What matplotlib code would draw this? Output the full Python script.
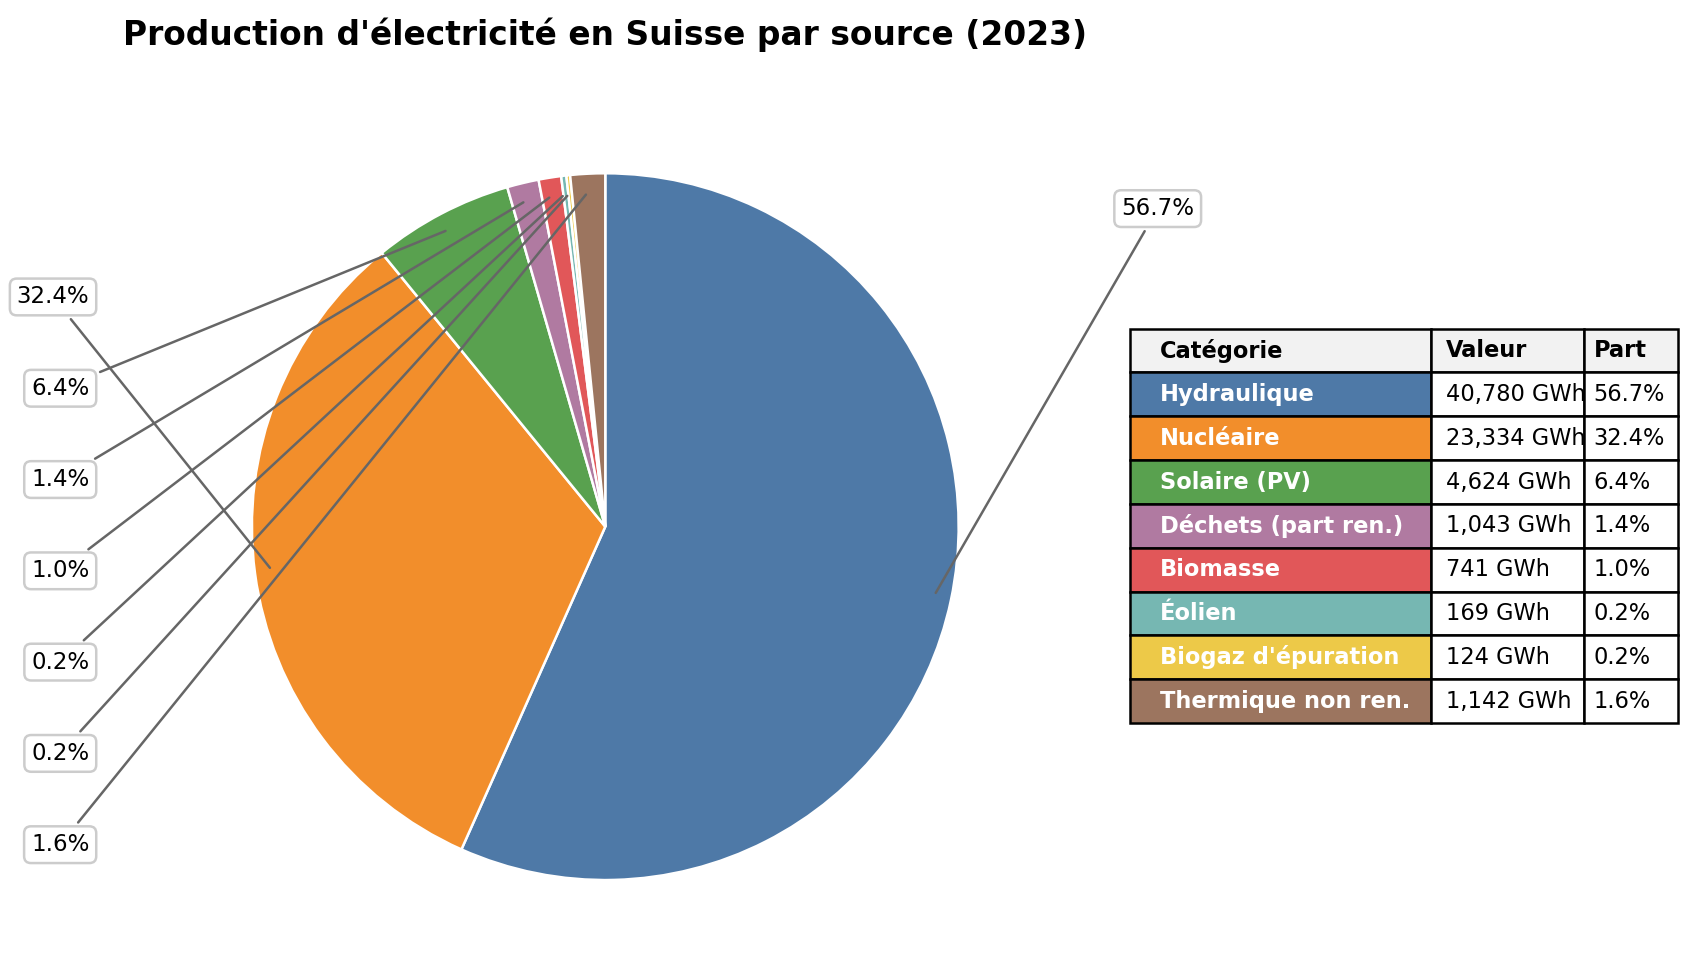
import numpy as np
import matplotlib
matplotlib.use('Agg')
import matplotlib.pyplot as plt

# data
categories = ['Hydraulique', 'Nucléaire', 'Solaire (PV)', 'Déchets (part ren.)',
              'Biomasse', 'Éolien', "Biogaz d'épuration", 'Thermique non ren.']
values_gwh = [40780, 23334, 4624, 1043, 741, 169, 124, 1142]
colors = ['#4e79a7', '#f28e2b', '#59a14f', '#b07aa1',
          '#e15759', '#76b7b2', '#edc948', '#9c755f']

total = sum(values_gwh)
shares = [v / total * 100 for v in values_gwh]

fig = plt.figure(figsize=(11.3, 6.46), dpi=150)

# pie axes
ax = fig.add_axes([0.0965, 0.0006, 0.5212, 0.9118])
wedges, _ = ax.pie(values_gwh, colors=colors, startangle=90, counterclock=False,
                   wedgeprops=dict(edgecolor='white', linewidth=1.2))
ax.set_xlim(-1.25, 1.25)
ax.set_ylim(-1.25, 1.25)
ax.set_aspect('equal')
ax.set_title("Production d'électricité en Suisse par source (2023)",
             fontsize=15.8, fontweight='bold', pad=19)

# label positions: right side at top, left side spread evenly
left_idx = []
right_idx = []
for i, w in enumerate(wedges):
    ang = np.deg2rad((w.theta1 + w.theta2) / 2)
    if np.cos(ang) >= 0:
        right_idx.append(i)
    else:
        left_idx.append(i)

left_y = np.linspace(0.65, -0.9, len(left_idx))
right_y = np.linspace(0.9, -0.9, max(len(right_idx), 2))[:len(right_idx)]

bbox_props = dict(boxstyle='round,pad=0.3', fc='white', ec='#cccccc', lw=1.2)
for idx_list, ys, side in [(left_idx, left_y, -1), (right_idx, right_y, 1)]:
    for i, y in zip(idx_list, ys):
        w = wedges[i]
        ang = np.deg2rad((w.theta1 + w.theta2) / 2)
        xy = (0.95 * np.cos(ang), 0.95 * np.sin(ang))
        ax.annotate(f"{shares[i]:.1f}%", xy=xy, xytext=(1.46 * side, y),
                    ha='right' if side < 0 else 'left', va='center', fontsize=11,
                    bbox=bbox_props,
                    arrowprops=dict(arrowstyle='-', color='#666666', lw=1.2))

# table
ax_tab = fig.add_axes([0.6664, 0.2537, 0.3233, 0.4072])
ax_tab.axis('off')
rows = [[c, f"{v:,} GWh", f"{s:.1f}%"] for c, v, s in zip(categories, values_gwh, shares)]
tab = ax_tab.table(cellText=rows, colLabels=['Catégorie', 'Valeur', 'Part'],
                   colWidths=[0.55, 0.28, 0.17], cellLoc='left', colLoc='left',
                   bbox=[0, 0, 1, 1])
tab.auto_set_font_size(False)
tab.set_fontsize(10.8)
for (r, c), cell in tab.get_celld().items():
    cell.set_edgecolor('black')
    cell.set_linewidth(1.2)
    if r == 0:
        cell.set_facecolor('#f2f2f2')
        cell.get_text().set_fontweight('bold')
    elif c == 0:
        cell.set_facecolor(colors[r - 1])
        cell.get_text().set_color('white')
        cell.get_text().set_fontweight('bold')

fig.savefig('out.png', dpi=150)
